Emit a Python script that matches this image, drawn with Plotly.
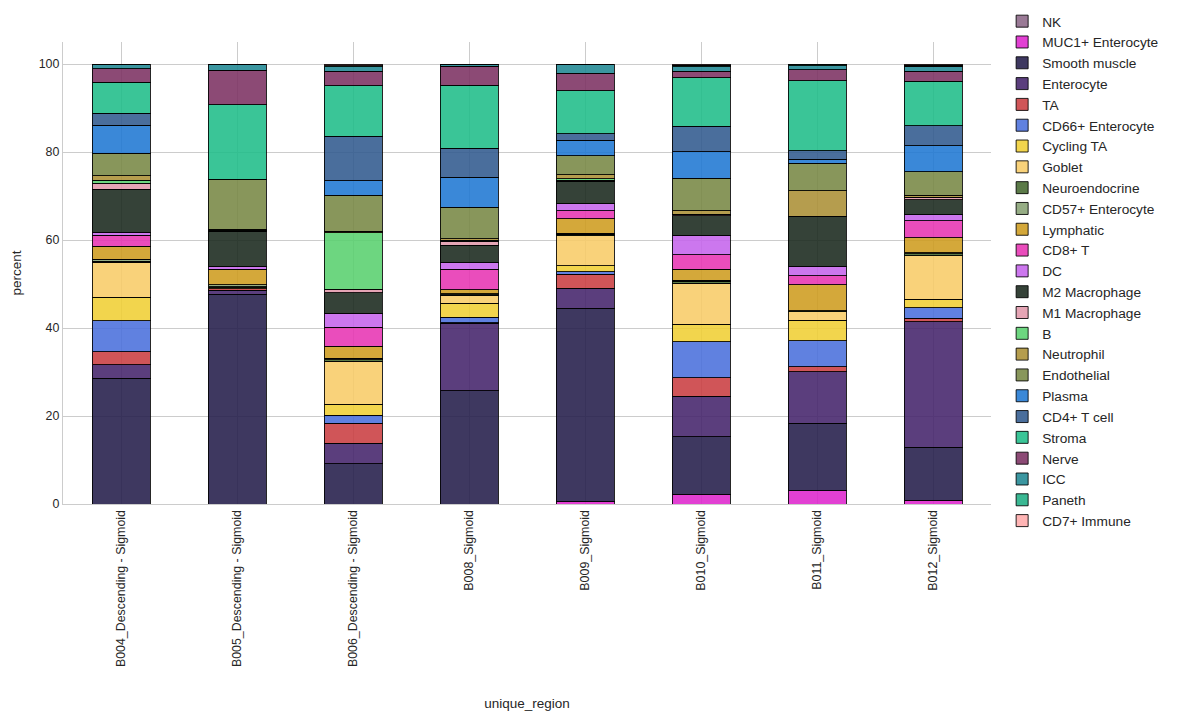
import plotly.graph_objects as go

regions = ["B004_Descending - Sigmoid", "B005_Descending - Sigmoid", "B006_Descending - Sigmoid",
           "B008_Sigmoid", "B009_Sigmoid", "B010_Sigmoid", "B011_Sigmoid", "B012_Sigmoid"]

cell_types = ["NK", "MUC1+ Enterocyte", "Smooth muscle", "Enterocyte", "TA", "CD66+ Enterocyte",
              "Cycling TA", "Goblet", "Neuroendocrine", "CD57+ Enterocyte", "Lymphatic", "CD8+ T",
              "DC", "M2 Macrophage", "M1 Macrophage", "B", "Neutrophil", "Endothelial", "Plasma",
              "CD4+ T cell", "Stroma", "Nerve", "ICC", "Paneth", "CD7+ Immune"]

# percent per region (same order as regions)
NK               = [0.0, 0.0, 0.0, 0.0, 0.0, 0.0, 0.0, 0.0]
MUC1_Enterocyte  = [0.0, 0.0, 0.0, 0.0, 0.5, 2.2, 3.0, 0.8]
Smooth_muscle    = [28.6, 47.7, 9.2, 25.7, 44.0, 13.1, 15.3, 12.1]
Enterocyte       = [3.1, 0.9, 4.6, 15.4, 4.5, 9.2, 11.8, 28.5]
TA               = [2.9, 0.3, 4.5, 0.1, 3.2, 4.2, 1.1, 0.8]
CD66_Enterocyte  = [7.1, 0.0, 1.9, 1.2, 0.6, 8.2, 5.9, 2.4]
Cycling_TA       = [5.3, 0.0, 2.5, 3.2, 1.3, 3.9, 4.7, 1.9]
Goblet           = [7.9, 0.2, 9.8, 1.8, 6.9, 9.4, 1.9, 9.9]
Neuroendocrine   = [0.3, 0.3, 0.3, 0.2, 0.3, 0.4, 0.2, 0.5]
CD57_Enterocyte  = [0.4, 0.4, 0.3, 0.2, 0.2, 0.3, 0.0, 0.2]
Lymphatic        = [3.0, 3.4, 2.7, 0.9, 3.3, 2.4, 5.9, 3.4]
CD8_T            = [2.5, 0.1, 4.4, 4.7, 1.8, 3.4, 2.1, 3.9]
DC               = [0.7, 0.6, 3.1, 1.4, 1.6, 4.4, 2.1, 1.3]
M2_Macrophage    = [9.7, 8.1, 4.7, 4.0, 5.1, 4.4, 11.4, 3.4]
M1_Macrophage    = [1.4, 0.0, 0.8, 0.9, 0.3, 0.3, 0.0, 0.6]
B                = [0.7, 0.2, 12.9, 0.3, 0.3, 0.1, 0.0, 0.0]
Neutrophil       = [1.0, 0.3, 0.3, 0.3, 0.9, 0.7, 5.8, 0.5]
Endothelial      = [5.1, 11.3, 8.2, 7.2, 4.3, 7.4, 6.2, 5.3]
Plasma           = [6.4, 0.0, 3.3, 6.8, 3.6, 6.1, 1.0, 5.9]
CD4_T_cell       = [2.7, 0.0, 10.1, 6.6, 1.5, 5.7, 1.9, 4.6]
Stroma           = [7.0, 16.9, 11.5, 14.3, 9.7, 11.1, 15.9, 10.1]
Nerve            = [3.1, 7.9, 3.2, 4.3, 4.0, 1.4, 2.5, 2.3]
ICC              = [1.1, 1.4, 1.1, 0.3, 2.1, 1.1, 0.9, 1.1]
Paneth           = [0.0, 0.0, 0.2, 0.2, 0.0, 0.3, 0.3, 0.2]
CD7_Immune       = [0.0, 0.0, 0.4, 0.0, 0.0, 0.3, 0.1, 0.3]

series = [NK, MUC1_Enterocyte, Smooth_muscle, Enterocyte, TA, CD66_Enterocyte, Cycling_TA, Goblet,
          Neuroendocrine, CD57_Enterocyte, Lymphatic, CD8_T, DC, M2_Macrophage, M1_Macrophage, B,
          Neutrophil, Endothelial, Plasma, CD4_T_cell, Stroma, Nerve, ICC, Paneth, CD7_Immune]

colors = ["#9a7a95", "#e23fd3", "#3d3760", "#5a3d7d", "#d05558", "#6080e0", "#f2d54c", "#f9d27a",
          "#5a7a48", "#95ad85", "#d4a83a", "#ea4cbc", "#cc77ee", "#354238", "#e5a5b5", "#6dd67f",
          "#b59d4e", "#88955a", "#3a88d8", "#4a6e9c", "#3ac597", "#8c4a75", "#3b96a0", "#3ab893",
          "#ffb5b5"]

ALPHA = 0.88


def base_rgba(hexcol, a=ALPHA):
    r, g, b = (int(hexcol[i:i + 2], 16) for i in (1, 3, 5))
    conv = lambda c: max(0, min(255, round((c - 255 * (1 - a)) / a)))
    return f"rgba({conv(r)},{conv(g)},{conv(b)},{a})"


fig = go.Figure()
for name, vals, col in zip(cell_types, series, colors):
    fig.add_trace(go.Bar(
        x=regions, y=vals, name=name, width=0.5, legendgroup=name,
        marker=dict(color=base_rgba(col), line=dict(color="rgba(0,0,0,0.85)", width=1)),
    ))

fig.update_layout(
    barmode="stack",
    width=1177, height=720,
    margin=dict(l=63, r=186, t=42, b=216, autoexpand=False),
    paper_bgcolor="white", plot_bgcolor="white",
    font=dict(family="Liberation Sans, Arial, sans-serif", size=12.4, color="#262626"),
    legend=dict(x=1.012, xanchor="left", yref="container", y=0.992, yanchor="top",
                traceorder="grouped", tracegroupgap=0, maxheight=1.0,
                font=dict(size=13.7, color="#262626"), bgcolor="rgba(0,0,0,0)", itemwidth=30),
    showlegend=True,
    bargap=0.5,
)
fig.update_xaxes(
    title=dict(text="unique_region", font=dict(size=13.5), standoff=32),
    tickangle=-90, showgrid=True, gridcolor="#cccccc", gridwidth=1,
    showline=True, linecolor="#cccccc", linewidth=1.2, automargin=False,
    range=[-0.5, 7.5], ticks="", tickfont=dict(size=12.4),
)
fig.update_yaxes(
    title=dict(text="percent", font=dict(size=13.5), standoff=14),
    range=[0, 105], tickvals=[0, 20, 40, 60, 80, 100], automargin=False,
    showgrid=True, gridcolor="#cccccc", gridwidth=1, zeroline=False,
    showline=True, linecolor="#cccccc", linewidth=1.2, ticks="", tickfont=dict(size=12.4),
)

fig.write_html("out.html")
